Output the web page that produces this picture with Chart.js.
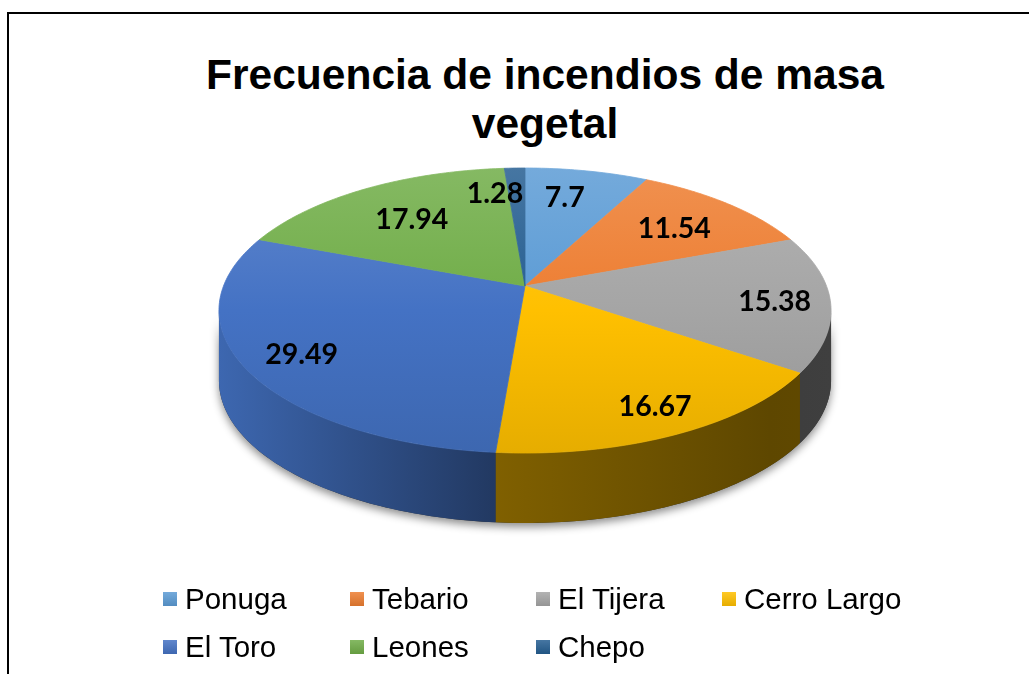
<!DOCTYPE html>
<html>
<head>
<meta charset="utf-8">
<script src="https://cdn.jsdelivr.net/npm/chart.js@4.4.1/dist/chart.umd.min.js"></script>
<style>
  body { margin: 0; background: #fff; }
  #wrap { position: relative; width: 1029px; height: 674px; overflow: hidden; }
  #frame { position: absolute; left: 7px; top: 12px; width: 1100px; height: 700px;
           border-left: 2px solid #000; border-top: 2px solid #000; }
  #title { position: absolute; left: 61px; width: 968px; top: 50px; text-align: center;
           font: bold 42.5px "Liberation Sans", Arial, sans-serif; line-height: 49px; color: #000; }
  #pie-chart { position: absolute; left: 0; top: 0; }
  #legend { position: absolute; left: 163px; top: 575px; width: 800px;
            display: grid; grid-template-columns: 187px 186px 186px 200px; }
  .item { height: 48px; display: flex; align-items: center;
          font: 29.5px "Liberation Sans", Arial, sans-serif; color: #000; }
  .box { width: 14px; height: 14px; margin-right: 8px; }
</style>
</head>
<body>
<div id="wrap">
  <div id="frame"></div>
  <div id="title">Frecuencia de incendios de masa<br>vegetal</div>
  <canvas id="pie-chart" width="1029" height="674"></canvas>
  <div id="legend"></div>
</div>
<script>
const labels = ['Ponuga', 'Tebario', 'El Tijera', 'Cerro Largo', 'El Toro', 'Leones', 'Chepo'];
const values = [7.7, 11.54, 15.38, 16.67, 29.49, 17.94, 1.28];
const colors = ['#5B9BD5', '#ED7D31', '#A5A5A5', '#FFC000', '#4472C4', '#70AD47', '#255E91'];

// label nudges (radius fraction and angle shift in degrees), like Excel's best fit
const labelRadius = [0.74, 0.70, 0.82, 0.84, 0.82, 0.67, 0.77];
const labelShift = [-2.3, 1.2, 0.5, -1.2, -1.3, -0.8, -6.1];

const ctx = document.getElementById('pie-chart');
const legendBox = document.querySelector('#legend');

function rgb(hex) {
    return [1, 3, 5].map(i => parseInt(hex.substr(i, 2), 16));
}
function shade(hex, k) {
    let c = rgb(hex).map(v => Math.round(v * k));
    return `rgb(${c[0]},${c[1]},${c[2]})`;
}
function lighten(hex, k) {
    let c = rgb(hex).map(v => Math.round(v + (255 - v) * k));
    return `rgb(${c[0]},${c[1]},${c[2]})`;
}

// draws the pie as a tilted 3D disc, using the angles Chart.js computed for each arc
const pie3d = {
    id: 'pie3d',
    beforeDatasetsDraw(chart) {
        const c = chart.ctx;
        const area = chart.chartArea;
        const R = (area.bottom - area.top) / 2;
        const cx = (area.left + area.right) / 2;
        const cy = (area.top + area.bottom) / 2;
        const A = R * 2.555, B = R * 1.172, p = 0.172, D = R * 0.593;

        const proj = (t, r) => {
            let u = r * Math.sin(t), v = r * Math.cos(t);
            let w = 1 + p * v;
            return [cx + A * u / w, cy - B * v / w];
        };
        const arcs = chart.getDatasetMeta(0).data;
        const tL = Math.PI / 2 + Math.asin(p);
        const tR = 3 * Math.PI / 2 - Math.asin(p);
        const xLeft = cx - A / Math.sqrt(1 - p * p);
        const xRight = cx + A / Math.sqrt(1 - p * p);

        function wallPath(a, b) {
            c.beginPath();
            let n = Math.max(8, Math.ceil((b - a) * 60));
            for (let i = 0; i <= n; i++) {
                let [x, y] = proj(a + (b - a) * i / n, 1);
                i === 0 ? c.moveTo(x, y) : c.lineTo(x, y);
            }
            for (let i = n; i >= 0; i--) {
                let [x, y] = proj(a + (b - a) * i / n, 1);
                c.lineTo(x, y + D);
            }
            c.closePath();
        }

        // soft shadow under the side wall
        c.save();
        c.shadowColor = 'rgba(0,0,0,0.45)';
        c.shadowBlur = 9;
        c.shadowOffsetY = 4;
        wallPath(tL, tR);
        c.fillStyle = '#333';
        c.fill();
        c.restore();

        // side walls
        arcs.forEach((arc, i) => {
            let a = Math.max(arc.startAngle + Math.PI / 2, tL);
            let b = Math.min(arc.endAngle + Math.PI / 2, tR);
            if (b <= a) return;
            let g = c.createLinearGradient(xLeft, 0, xRight, 0);
            g.addColorStop(0, shade(colors[i], 0.9));
            g.addColorStop(0.45, shade(colors[i], 0.5));
            g.addColorStop(0.9, shade(colors[i], 0.37));
            g.addColorStop(1, shade(colors[i], 0.38));
            wallPath(a, b);
            c.fillStyle = g;
            c.fill();
        });

        // top faces
        const yTop = cy - B / (1 + p), yBot = cy + B / (1 - p);
        arcs.forEach((arc, i) => {
            let a = arc.startAngle + Math.PI / 2;
            let b = arc.endAngle + Math.PI / 2;
            let n = Math.max(4, Math.ceil((b - a) * 60));
            c.beginPath();
            c.moveTo(cx, cy);
            for (let k = 0; k <= n; k++) {
                let [x, y] = proj(a + (b - a) * k / n, 1);
                c.lineTo(x, y);
            }
            c.closePath();
            let g = c.createLinearGradient(0, yTop, 0, yBot);
            g.addColorStop(0, lighten(colors[i], 0.15));
            g.addColorStop(0.5, colors[i]);
            g.addColorStop(1, shade(colors[i], 0.9));
            c.fillStyle = g;
            c.strokeStyle = g;
            c.lineWidth = 0.8;
            c.fill();
            c.stroke();
        });

        // value labels
        c.save();
        c.font = 'bold 28.5px Lato, "Open Sans", sans-serif';
        c.fillStyle = '#000';
        c.textAlign = 'center';
        c.textBaseline = 'middle';
        arcs.forEach((arc, i) => {
            let mid = (arc.startAngle + arc.endAngle) / 2 + Math.PI / 2 + labelShift[i] * Math.PI / 180;
            let [x, y] = proj(mid, labelRadius[i]);
            c.fillText(String(values[i]), x, y + 1);
        });
        c.restore();
        return false;
    }
};

new Chart(ctx, {
    type: 'pie',
    data: {
        labels: labels,
        datasets: [{
            data: values,
            backgroundColor: colors,
            borderWidth: 0
        }]
    },
    options: {
        responsive: false,
        animation: false,
        layout: { padding: { left: 21, right: 0, top: 168, bottom: 270 } },
        plugins: {
            legend: { display: false },
            tooltip: { enabled: false }
        }
    },
    plugins: [pie3d]
});

// legend in a grid, same as the Excel layout
labels.forEach((name, i) => {
    let item = document.createElement('div');
    item.className = 'item';
    let box = document.createElement('span');
    box.className = 'box';
    box.style.background = `linear-gradient(${lighten(colors[i], 0.15)}, ${shade(colors[i], 0.9)})`;
    item.appendChild(box);
    item.appendChild(document.createTextNode(name));
    legendBox.appendChild(item);
});
</script>
</body>
</html>
